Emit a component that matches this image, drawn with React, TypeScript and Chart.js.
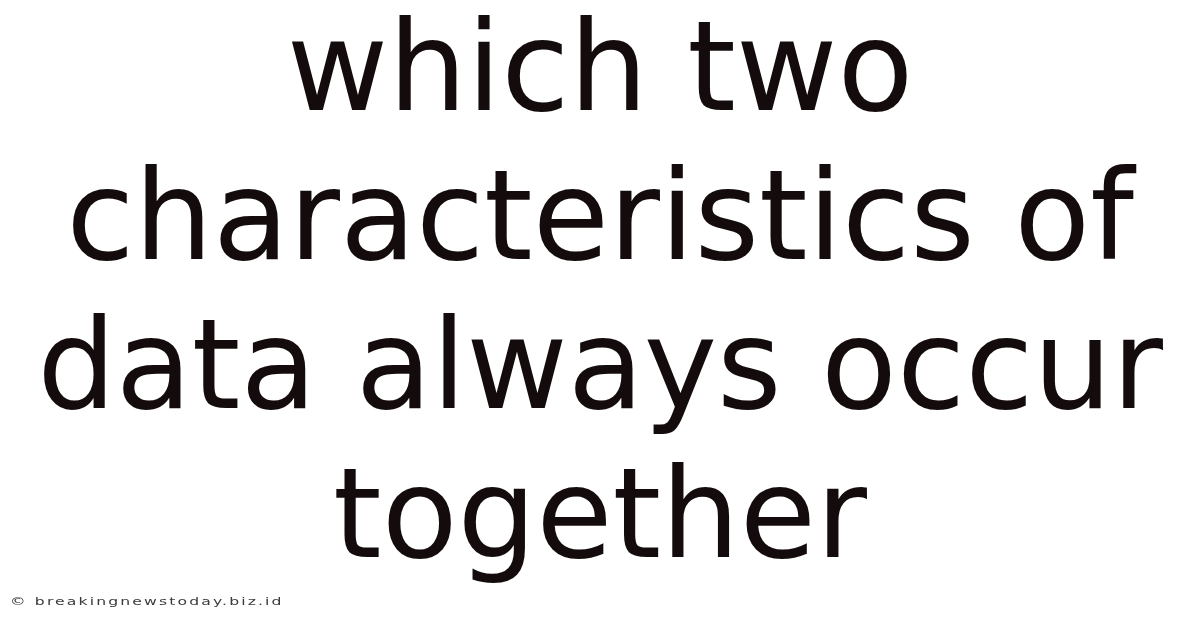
import { Chart, registerables } from 'chart.js';
import { useEffect, useRef } from 'react';

Chart.register(...registerables);

const headlineLines = ['which two', 'characteristics of', 'data always occur', 'together'];
const watermarkText = '© breakingnewstoday.biz.id';

// small plugin for the site credit in the lower left corner (drawn a bit stretched, like the source)
const watermarkPlugin = {
  id: 'watermark',
  afterDraw(chart: Chart) {
    const { ctx } = chart;
    ctx.save();
    ctx.translate(10, 602);
    ctx.scale(1.42, 1);
    ctx.font = '11px "DejaVu Sans"';
    (ctx as any).letterSpacing = '1.5px';
    ctx.fillStyle = '#3a3a3a';
    ctx.textBaseline = 'middle';
    ctx.textAlign = 'left';
    ctx.fillText(watermarkText, 0, 0);
    ctx.restore();
  }
};

export default function App() {
  const canvasRef = useRef<HTMLCanvasElement>(null);
  const chartRef = useRef<Chart | null>(null);

  useEffect(() => {
    document.body.style.margin = '0';
    if (!canvasRef.current) return;

    if (chartRef.current) {
      chartRef.current.destroy();
    }

    chartRef.current = new Chart(canvasRef.current, {
      type: 'bar',
      data: { labels: [], datasets: [] },
      options: {
        animation: false,
        responsive: true,
        maintainAspectRatio: false,
        layout: { padding: 0 },
        scales: {
          x: { display: false },
          y: { display: false }
        },
        plugins: {
          legend: { display: false },
          tooltip: { enabled: false },
          title: {
            display: true,
            text: headlineLines,
            color: '#140c0c',
            font: { family: '"DejaVu Sans"', size: 124, weight: 'normal', lineHeight: 1.2016 },
            padding: { top: 3.5, bottom: 0 }
          }
        }
      },
      plugins: [watermarkPlugin]
    });

    return () => {
      if (chartRef.current) {
        chartRef.current.destroy();
        chartRef.current = null;
      }
    };
  }, []);

  return (
    <div style={{ width: 1200, height: 628, background: '#fff' }}>
      <canvas ref={canvasRef} />
    </div>
  );
}
